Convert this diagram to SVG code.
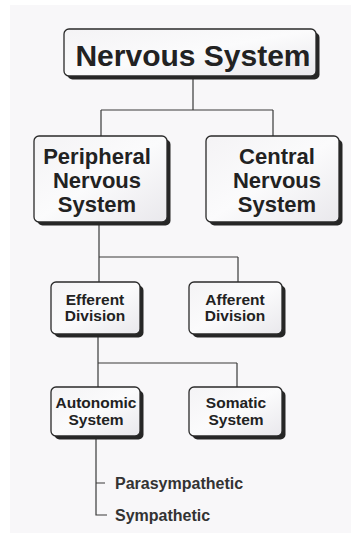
<svg xmlns="http://www.w3.org/2000/svg" width="351" height="542" viewBox="0 0 351 542">
  <defs>
    <linearGradient id="boxFill" x1="0" y1="0" x2="1" y2="1">
      <stop offset="0" stop-color="#f4f3f5"/>
      <stop offset="0.5" stop-color="#fbfbfc"/>
      <stop offset="1" stop-color="#e9e8ec"/>
    </linearGradient>
  </defs>
  <style>
    .shadow { fill: #262626; }
    .box { fill: url(#boxFill); stroke: #2a2a2a; stroke-width: 1.3; }
    .label { font-family: "Liberation Sans", Arial, sans-serif; font-weight: bold; fill: #222; text-anchor: middle; }
    .big { font-size: 22px; }
    .small { font-size: 15.5px; }
    .leaf { font-family: "Liberation Sans", Arial, sans-serif; font-weight: bold; font-size: 16px; fill: #333; }
    .wire { fill: none; stroke: #3a3a3a; stroke-width: 1.2; }
  </style>

  <!-- paper -->
  <rect x="0" y="0" width="351" height="542" fill="#ffffff"/>
  <rect x="10" y="5" width="341" height="528" fill="#f8f7f9"/>

  <!-- connectors -->
  <g id="connectors">
    <path class="wire" d="M193 78 V110 M101 110 H273 M101 110 V136 M273 110 V136"/>
    <path class="wire" d="M99 225 V257 M99 257 H238 M99 257 V282 M238 257 V282"/>
    <path class="wire" d="M98 337 V363 M98 363 H237 M98 363 V387 M237 363 V387"/>
    <path class="wire" d="M96 437 V515 H107 M96 483 H105"/>
  </g>

  <g id="nervous-system">
    <rect class="shadow" x="67.5" y="32.5" width="252" height="47" rx="5"/>
    <rect class="box" x="64" y="29" width="252" height="47" rx="5"/>
    <text class="label" x="193" y="66" font-size="30">Nervous System</text>
  </g>

  <g id="peripheral">
    <rect class="shadow" x="37.5" y="139.5" width="133" height="86" rx="5"/>
    <rect class="box" x="34" y="136" width="133" height="86" rx="5"/>
    <text class="label big" x="97" y="164">Peripheral</text>
    <text class="label big" x="97" y="188">Nervous</text>
    <text class="label big" x="97" y="212">System</text>
  </g>

  <g id="central">
    <rect class="shadow" x="209.5" y="139.5" width="133" height="86" rx="5"/>
    <rect class="box" x="206" y="136" width="133" height="86" rx="5"/>
    <text class="label big" x="277" y="164">Central</text>
    <text class="label big" x="277" y="188">Nervous</text>
    <text class="label big" x="277" y="212">System</text>
  </g>

  <g id="efferent">
    <rect class="shadow" x="54.5" y="285.5" width="89" height="52" rx="5"/>
    <rect class="box" x="51" y="282" width="89" height="52" rx="5"/>
    <text class="label small" x="95" y="305">Efferent</text>
    <text class="label small" x="95" y="321">Division</text>
  </g>

  <g id="afferent">
    <rect class="shadow" x="192.5" y="285.5" width="93" height="52" rx="5"/>
    <rect class="box" x="189" y="282" width="93" height="52" rx="5"/>
    <text class="label small" x="235" y="305">Afferent</text>
    <text class="label small" x="235" y="321">Division</text>
  </g>

  <g id="autonomic">
    <rect class="shadow" x="54.5" y="390.5" width="89" height="49" rx="5"/>
    <rect class="box" x="51" y="387" width="89" height="49" rx="5"/>
    <text class="label small" x="96" y="408">Autonomic</text>
    <text class="label small" x="96" y="425">System</text>
  </g>

  <g id="somatic">
    <rect class="shadow" x="192.5" y="390.5" width="93" height="49" rx="5"/>
    <rect class="box" x="189" y="387" width="93" height="49" rx="5"/>
    <text class="label small" x="236" y="408">Somatic</text>
    <text class="label small" x="236" y="425">System</text>
  </g>

  <g id="parasympathetic">
    <text class="leaf" x="115" y="489">Parasympathetic</text>
  </g>

  <g id="sympathetic">
    <text class="leaf" x="115" y="521">Sympathetic</text>
  </g>
</svg>
